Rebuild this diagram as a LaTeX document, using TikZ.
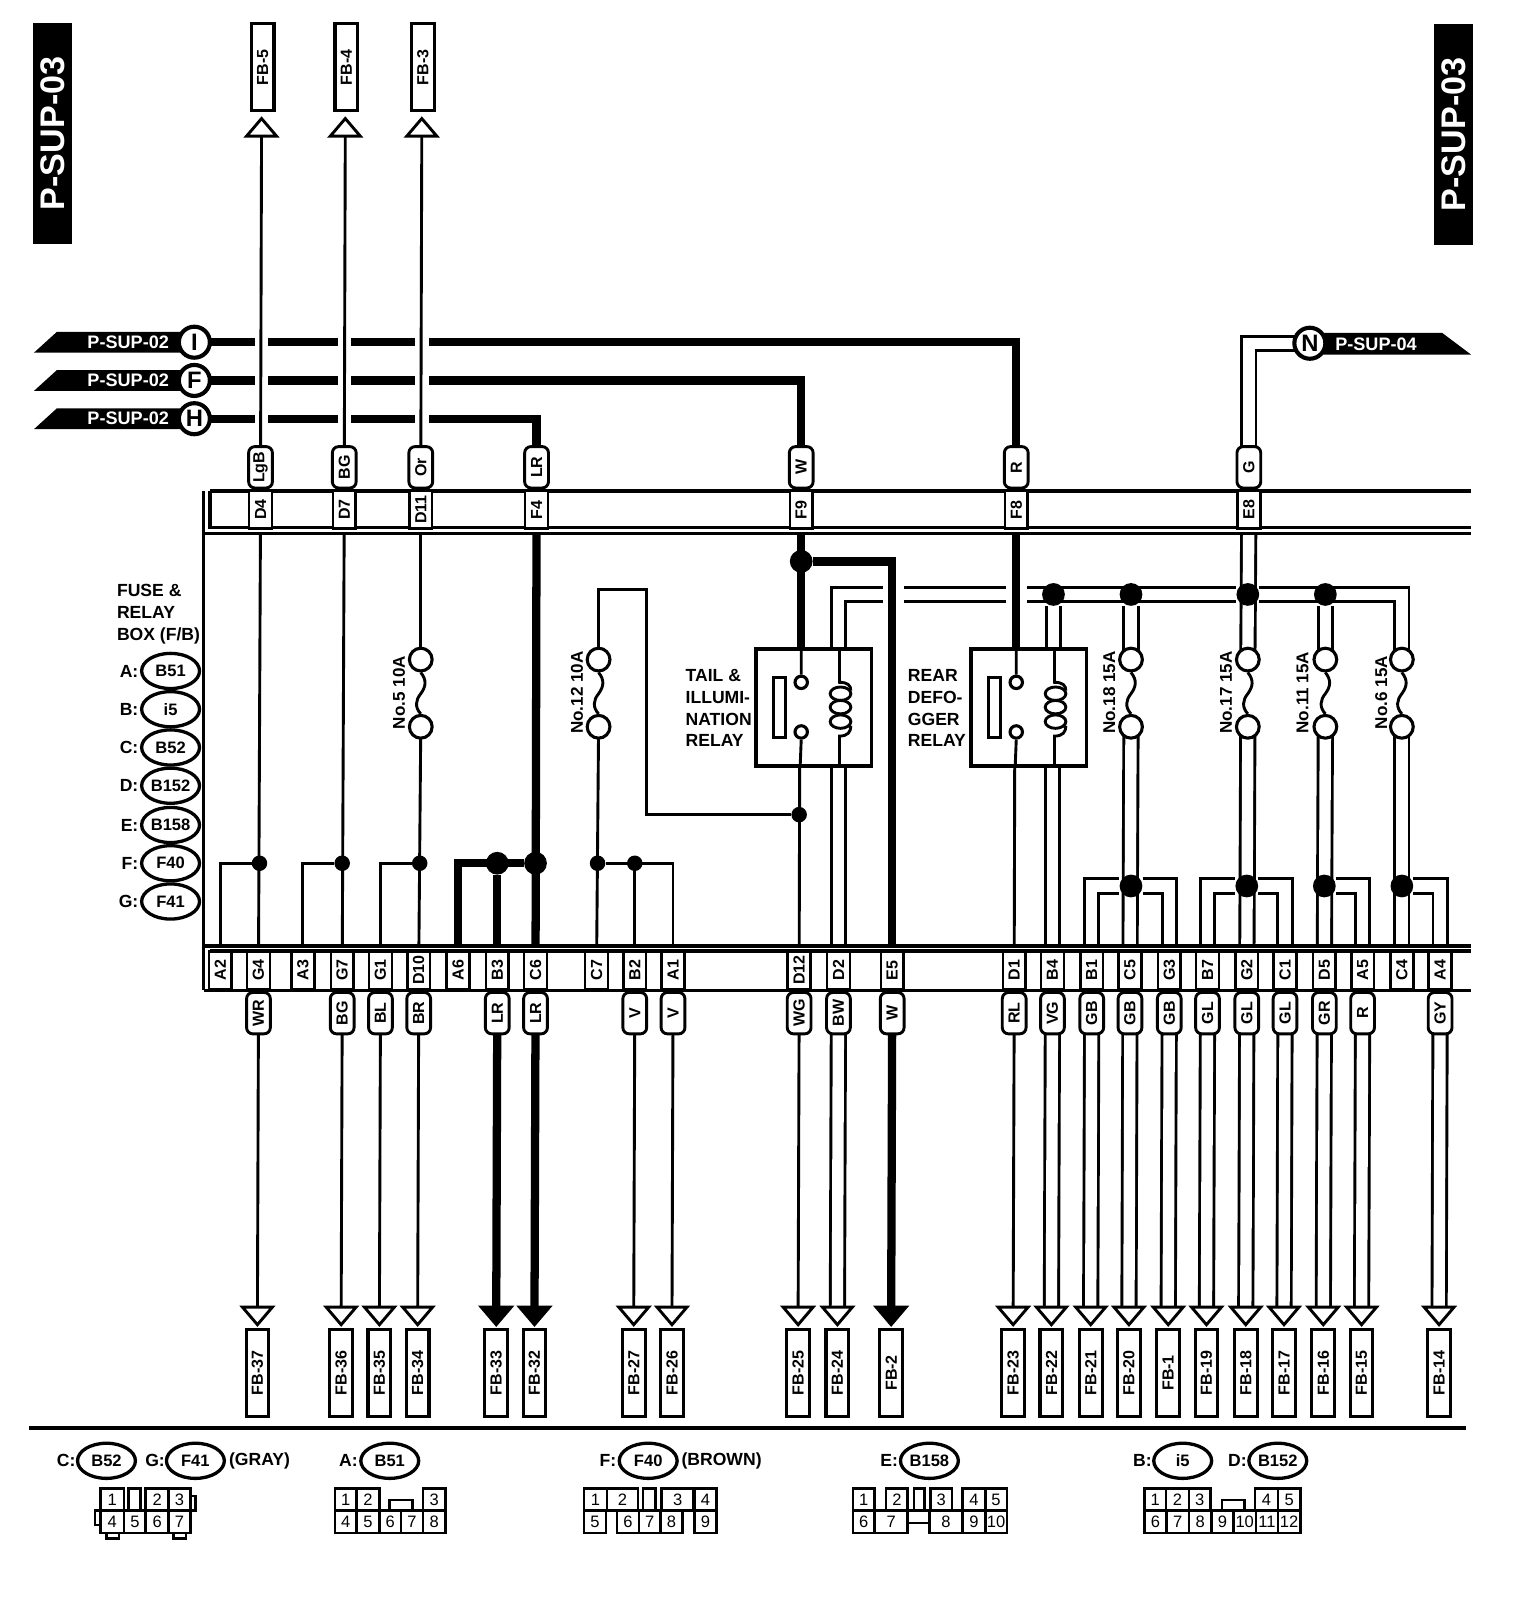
\documentclass[tikz,border=0pt]{standalone}
\usepackage{fontspec}
\setmainfont{Liberation Sans}
\usetikzlibrary{shapes.geometric,backgrounds}
\tikzset{
 thinw/.style={line width=2.8pt,line join=miter},
 heavyw/.style={line width=8pt,line join=miter},
 hollow/.style={line width=2.8pt,double,double distance=11pt,line join=miter},
 gapw/.style={white,line width=13pt},
 rail/.style={line width=3.5pt},
 pinbox/.style={draw,fill=white,line width=2.5pt,rotate=90,minimum width=36pt,minimum height=22pt,inner sep=0pt,font=\bfseries\fontsize{15.5}{17}\selectfont},
 tagbox/.style={draw,fill=white,line width=2.8pt,rotate=90,rounded corners=6pt,minimum width=40pt,minimum height=23pt,inner sep=0pt,font=\bfseries\fontsize{15.5}{17}\selectfont},
 fbbox/.style={draw,fill=white,line width=3pt,rotate=90,minimum width=84pt,minimum height=22pt,inner sep=0pt,font=\bfseries\fontsize{15.5}{17}\selectfont},
 tipbox/.style={draw,line width=2.8pt,isosceles triangle,isosceles triangle stretches,minimum width=29pt,minimum height=17pt,inner sep=0pt,anchor=apex},
 junc/.style={circle,fill=black,inner sep=0pt,minimum size=15pt},
 bigjunc/.style={circle,fill=black,inner sep=0pt,minimum size=22pt},
 fuseend/.style={circle,draw,fill=white,line width=3pt,inner sep=0pt,minimum size=22pt},
 contact/.style={circle,draw,fill=white,line width=3pt,inner sep=0pt,minimum size=12pt},
 relaybox/.style={draw,line width=3.5pt,minimum width=112pt,minimum height=113pt,inner sep=0pt},
 plate/.style={draw,line width=3pt,minimum width=12pt,minimum height=58pt,inner sep=0pt},
 sheet/.style={circle,draw,fill=white,line width=4pt,inner sep=0pt,minimum size=30pt,font=\bfseries\fontsize{23}{25}\selectfont},
 flagtext/.style={text=white,inner sep=0pt,font=\bfseries\fontsize{17.5}{19}\selectfont},
 pagetab/.style={fill=black,text=white,rotate=90,minimum width=214pt,minimum height=38pt,inner sep=0pt,font=\bfseries\fontsize{33}{35}\selectfont},
 note/.style={inner sep=0pt,anchor=west,font=\bfseries\fontsize{17}{21}\selectfont,align=left},
 fusenote/.style={inner sep=0pt,rotate=90,font=\bfseries\fontsize{16.5}{18}\selectfont},
 code/.style={ellipse,draw,line width=3.2pt,fill=white,inner sep=0pt,minimum width=56pt,minimum height=34pt,font=\bfseries\fontsize{16}{18}\selectfont},
 cell/.style={line width=2.5pt},
 cellnum/.style={inner sep=0pt,font=\fontsize{16}{18}\selectfont},
}
\begin{document}
\begin{tikzpicture}[x=1pt,y=-1pt]
 \useasboundingbox (0,0) rectangle (1470,1567);

 \node[pagetab] (tabL) at (51,129) {P-SUP-03};
 \node[pagetab] (tabR) at (1406,130) {P-SUP-03};

 % box frame
 \draw[rail] (197,475) -- (197,958);
 \draw[rail] (203,475) -- (1423,475) (203,475) -- (203,511) -- (1423,511);
 \draw[white,line width=3pt] (198.5,513.5) -- (1423,513.5) (198.5,917.5) -- (1423,917.5);
 \draw[rail] (197,516) -- (1423,516);
 \draw[rail] (197,915) -- (1423,915) (203,920) -- (1423,920) (203,920) -- (203,958) (197,958) -- (1423,958);

 % sheet references
 \foreach \s/\y in {I/331,F/368,H/405} {
 	\fill (33,\y+10) -- (55,\y-10) -- (175,\y-10) -- (175,\y+10) -- cycle;
 	\node[flagtext] (flag\s) at (124,\y) {P-SUP-02};
 	\node[sheet] (sheet\s) at (188,\y) {\s};
 }
 \fill (1280,322) -- (1395,322) -- (1423,343) -- (1280,343) -- cycle;
 \node[flagtext] (flagN) at (1331,333) {P-SUP-04};
 \node[sheet] (sheetN) at (1267,332) {N};

 % top terminals
 \foreach \p/\x/\c/\f in {D4/252/LgB/5,D7/333/BG/4,D11/407/Or/3} {
 	\node[fbbox] (fb\p) at (\x+2,65) {FB-\f};
 	\node[tipbox,fill=white,shape border rotate=90] (tip\p) at (\x+1,111) {};
 }
 \foreach \p/\x/\c in {D4/252/LgB,D7/333/BG,D11/407/Or,F4/519/LR,F9/775/W,F8/983/R,E8/1208/G} {
 	\node[tagbox] (tag\p) at (\x,452) {\c};
 	\node[pinbox] (up\p) at (\x,493) {\p};
 }

 % lower pins
 \foreach \p/\x in {A2/213,A3/293,A6/443,C7/577,C4/1356} {
 	\node[pinbox] (low\p) at (\x,938.5) {\p};
 }
 \foreach \p/\x/\c/\f/\k/\t in {G4/250/WR/37/thinw/white,G7/331/BG/36/thinw/white,G1/368/BL/35/thinw/white,D10/405/BR/34/thinw/white,
 	B3/481/LR/33/heavyw/black,C6/518/LR/32/heavyw/black,B2/614/V/27/thinw/white,A1/651/V/26/thinw/white,
 	D12/773/WG/25/thinw/white,D2/811/BW/24/hollow/white,E5/863/W/2/heavyw/black,D1/981/RL/23/thinw/white,
 	B4/1018/VG/22/hollow/white,B1/1056/GB/21/hollow/white,C5/1093/GB/20/hollow/white,G3/1131/GB/1/hollow/white,
 	B7/1168/GL/19/hollow/white,G2/1206/GL/18/hollow/white,C1/1243/GL/17/hollow/white,D5/1281/GR/16/hollow/white,
 	A5/1318/R/15/hollow/white,A4/1393/GY/14/hollow/white} {
 	\node[pinbox] (low\p) at (\x,938.5) {\p};
 	\node[tagbox] (tagl\p) at (\x,980) {\c};
 	\node[tipbox,fill=\t,shape border rotate=-90] (tip\p) at (\x-1,1285) {};
 	\node[fbbox] (fb\p) at (\x-1,1328) {FB-\f};
 	\begin{pgfonlayer}{background}
 		\draw[\k] (tagl\p.center) -- (tip\p.center);
 	\end{pgfonlayer}
 }

 % fuses
 \foreach \n/\x/\lx/\t in {5/407/386/No.5 10A,12/579/558/No.12 10A,18/1094/1073/No.18 15A,17/1207/1186/No.17 15A,11/1282/1260/No.11 15A,6/1356/1336/No.6 15A} {
 	\node[fuseend] (fuse\n a) at (\x,638) {};
 	\node[fuseend] (fuse\n b) at (\x,703) {};
 	\node[fusenote] (fusetxt\n) at (\lx,670) {\t};
 	\draw[thinw] (fuse\n a.south) .. controls (\x+6,658) and (\x+5,664) .. (\x,671) .. controls (\x-5,677) and (\x-6,684) .. (fuse\n b.north);
 }

 % relays
 \foreach \r/\c/\k in {tail/775/812,rear/983/1020} {
 	\node[relaybox] (\r) at (\c+12,684.5) {};
 	\node[plate] (\r plate) at (\c-21,684) {};
 	\node[contact] (\r up) at (\c,660) {};
 	\node[contact] (\r dn) at (\c,708) {};
 	\draw[thinw] (\r up.north) -- (\c,628) (\r dn.south) -- (\c-1,741);
 	\draw[thinw] (\k,628) -- (\k,660) .. controls (\k+8,660) and (\k+11,663) .. (\k+11,668);
 	\draw[thinw] (\k+11,702) .. controls (\k+11,708) and (\k+8,712) .. (\k,712) -- (\k,741);
 	\foreach \y in {671,684,698} {
 		\draw[thinw] (\k+1,\y) ellipse [x radius=10,y radius=6.5];
 	}
 }
 \node[note] (tailtxt) at (663,685) {TAIL \&\\ILLUMI-\\NATION\\RELAY};
 \node[note] (reartxt) at (878,685) {REAR\\DEFO-\\GGER\\RELAY};

 % junctions
 \foreach \n/\x/\y in {jG4/251/835,jG7/331/835,jD10/406/835,jC7/578/835,jB2/614/835,jD12/773/788} {
 	\node[junc] (\n) at (\x,\y) {};
 }
 \foreach \n/\x/\y in {jB3/481/835,jC6/518/835,jF9/775/543,jB4/1019/575,jC5/1094/575,jE8/1207/575,jD5/1282/575,jB1/1094/857,jB7/1206/857,jA5/1281/857,jA4/1356/857} {
 	\node[bigjunc] (\n) at (\x,\y) {};
 }

 \begin{pgfonlayer}{background}
 	\draw[heavyw] (sheetI.center) -| (tagF8.center);
 	\draw[heavyw] (sheetF.center) -| (tagF9.center);
 	\draw[heavyw] (sheetH.center) -| (tagF4.center);
 	\foreach \x in {253,333,408} {
 		\draw[gapw] (\x,323) -- (\x,339) (\x,360) -- (\x,376) (\x,397) -- (\x,413);
 	}
 	\draw[thinw] (tipD4.center) -- (tagD4.center);
 	\draw[thinw] (tipD7.center) -- (tagD7.center);
 	\draw[thinw] (tipD11.center) -- (tagD11.center);
 	\draw[hollow] (tagE8.center) |- (sheetN.center);

 	\draw[thinw] (upD4.center) -- (lowG4.center);
 	\draw[thinw] (upD7.center) -- (lowG7.center);
 	\draw[thinw] (upD11.center) -- (fuse5a.center);
 	\draw[thinw] (fuse5b.center) -- (lowD10.center);
 	\draw[thinw] (jG4) -| (lowA2.center);
 	\draw[thinw] (jG7) -| (lowA3.center);
 	\draw[thinw] (jD10) -| (lowG1.center);
 	\draw[heavyw] (upF4.center) -- (lowC6.center);
 	\draw[heavyw] (jC6) -| (lowA6.center);
 	\draw[heavyw] (jB3) -- (lowB3.center);

 	\draw[thinw] (jD12) -| (625,570) -| (fuse12a.center);
 	\draw[thinw] (fuse12b.center) -- (lowC7.center);
 	\draw[thinw] (jC7) -| (lowA1.center);
 	\draw[thinw] (jB2) -- (lowB2.center);
 	\draw[thinw] (773.5,741) -- (lowD12.center);

 	% bus and what it feeds
 	\draw[hollow] (811,628) |- (jE8) -| (fuse6a.center);
 	\draw[hollow] (jB4) -- (1019,628);
 	\draw[hollow] (jC5) -- (fuse18a.center);
 	\draw[hollow] (jD5) -- (fuse11a.center);
 	\draw[hollow] (upE8.center) -- (fuse17a.center);
 	\draw[hollow] (811,741) -- (lowD2.center);
 	\draw[hollow] (1018,741) -- (lowB4.center);
 	\draw[thinw] (981.5,741) -- (lowD1.center);

 	\draw[gapw,line width=20pt] (864,562) -- (864,590) (983,562) -- (983,590);
 	\draw[heavyw] (jF9) -| (lowE5.center);
 	\draw[heavyw] (upF9.center) -- (775,628);
 	\draw[heavyw] (upF8.center) -- (983,628);

 	% branches to the lower pins
 	\draw[hollow] (lowB1.center) |- (jB1) -| (lowG3.center);
 	\draw[hollow] (lowB7.center) |- (jB7) -| (lowC1.center);
 	\draw[hollow] (jA5) -| (lowA5.center);
 	\draw[hollow] (jA4) -| (lowA4.center);
 	\draw[hollow] (fuse18b.center) -- (lowC5.center);
 	\draw[hollow] (fuse17b.center) -- (lowG2.center);
 	\draw[hollow] (fuse11b.center) -- (lowD5.center);
 	\draw[hollow] (fuse6b.center) -- (lowC4.center);
 \end{pgfonlayer}

 % legend of the box
 \node[note] (boxtxt) at (113,594) {FUSE \&\\RELAY\\BOX (F/B)};
 \foreach \k/\y/\c in {A/649/B51,B/686/i5,C/723/B52,D/760/B152,E/798/B158,F/835/F40,G/872/F41} {
 	\node[note,anchor=east] (key\k) at (134,\y) {\k:};
 	\node[code] (code\k) at (165,\y) {\c};
 }

 \draw[line width=3.5pt] (28,1381) -- (1418,1381);

 % connector keys
 \foreach \n/\x/\t in {nC/64/C:,nG/150/G:,nA/337/A:,nF/588/F:,nE/860/E:,nB/1105/B:,nD/1197/D:,nGray/251/(GRAY),nBrown/698/(BROWN)} {
 	\node[note,anchor=center] (\n) at (\x,1413) {\t};
 }
 \foreach \n/\x/\t in {cC/103/B52,cG/189/F41,cA/377/B51,cF/627/F40,cE/899/B158,cB/1144/i5,cD/1236/B152} {
 	\node[code] (\n) at (\x,1413) {\t};
 }

 \foreach \n/\xa/\xb/\t in {ca/97/120/1,cb/124.5/136/,cc/141/163/2,cd/163/184/3,
 	da/324/345/1,db/345/367/2,dc/409/431/3,
 	ea/565/587/1,eb/587/617/2,ec/622/634/,ed/640/671/3,ee/672/693/4,
 	fa/825/846/1,fb/857/878/2,fc/884/894/,fd/900/921/3,fe/931/953/4,ff/953/974/5,
 	ga/1107/1128/1,gb/1128/1150/2,gc/1150/1171/3,gd/1214/1236/4,ge/1236/1258/5} {
 	\draw[cell] (\xa,1440) rectangle node[cellnum] (\n) {\t} (\xb,1461);
 }
 \foreach \n/\xa/\xb/\t in {ha/97/120/4,hb/120/141/5,hc/141/163/6,hd/163/184/7,
 	ia/324/345/4,ib/345/367/5,ic/367/388/6,id/388/409/7,ie/409/431/8,
 	ja/565/586/5,jb/597/618/6,jc/618/639/7,jd/639/660/8,je/672/693/9,
 	ka/825/846/6,kb/846/878/7,kc/899/931/8,kd/931/953/9,ke/953/974/10,
 	la/1107/1128.5/6,lb/1128.5/1150/7,lc/1150/1172/8,ld/1172/1193/9,le/1193/1215/10,lf/1215/1236/11,lg/1236/1258/12} {
 	\draw[cell] (\xa,1461) rectangle node[cellnum] (\n) {\t} (\xb,1483);
 }
 % ears and latches
 \draw[cell] (184,1447) -- (189,1447) -- (189,1461) -- (184,1461);
 \draw[cell] (97,1461) -- (92,1461) -- (92,1475) -- (97,1475);
 \draw[cell] (103,1483) -- (103,1488) -- (115,1488) -- (115,1483);
 \draw[cell] (168,1483) -- (168,1488) -- (180,1488) -- (180,1483);
 \draw[cell] (377,1461) -- (377,1451) -- (399,1451) -- (399,1461);
 \draw[cell] (878,1473) -- (899,1473);
 \draw[cell] (878,1461) -- (899,1461);
 \draw[cell] (1182,1461) -- (1182,1451) -- (1204,1451) -- (1204,1461);
\end{tikzpicture}
\end{document}
